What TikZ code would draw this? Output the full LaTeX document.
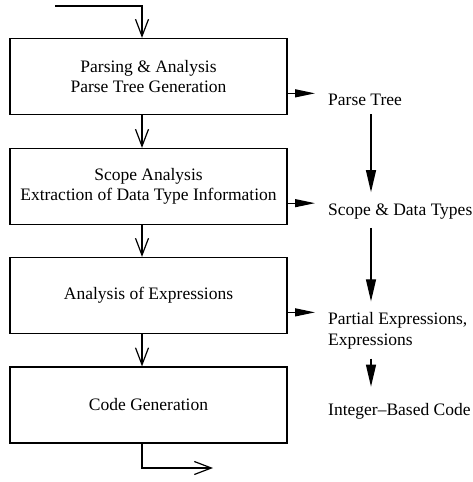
\documentclass[tikz,border=0pt]{standalone}
\usepackage{fontspec}
\setmainfont{Liberation Serif}
\usetikzlibrary{arrows.meta}

\begin{document}
\begin{tikzpicture}[x=1pt, y=-1pt, % pixel-like units, y downwards
    stage/.style={draw, line width=1.2pt, minimum width=277pt, minimum height=76pt,
        align=center, font=\fontsize{17.5}{20.5}\selectfont},
    result/.style={align=left, inner sep=0pt, font=\fontsize{17.5}{21}\selectfont},
    flow/.style={line width=1.2pt, -{Straight Barb[length=17pt,width=13pt]}},
    feed/.style={line width=1.2pt, -{Triangle[length=20pt,width=8pt]}},
    pass/.style={line width=1.2pt, -{Triangle[length=22pt,width=10pt]},
        shorten <=9pt, shorten >=11pt}]
    \useasboundingbox (0,0) rectangle (472,482);

    % Stages
    \node[stage] (parse) at (148.5,76.5) {Parsing \& Analysis\\Parse Tree Generation};
    \node[stage] (scope) at (148.5,186.5) {Scope Analysis\\Extraction of Data Type Information};
    \node[stage] (expr)  at (148.5,295.5) {Analysis of Expressions};
    \node[stage] (code)  at (148.5,405)   {Code Generation};

    % Results
    \node[result, anchor=base west] (tree)  at (328,105) {Parse Tree};
    \node[result, anchor=base west] (types) at (328,215) {Scope \& Data Types};
    \node[result, anchor=west]      (part)  at (328,331) {Partial Expressions,\\Expressions};
    \node[result, anchor=base west] (ints)  at (328,415) {Integer--Based Code};

    % Input and output
    \coordinate (in)  at (55,6);
    \coordinate (top) at (142,6);
    \coordinate (out) at (213,468);
    \coordinate (rx)  at (371,0);

    % Control flow
    \draw[flow] (in) -- (top) -- (parse.north -| top);
    \draw[flow] (parse.south -| top) -- (scope.north -| top);
    \draw[flow] (scope.south -| top) -- (expr.north -| top);
    \draw[flow] (expr.south -| top) -- (code.north -| top);
    \draw[flow] (code.south -| top) |- (out);

    % Data produced
    \draw[feed] (parse.east |- tree.north) -- ([xshift=-13pt]tree.north west);
    \draw[feed] (scope.east |- types.north) -- ([xshift=-13pt]types.north west);
    \draw[feed] (expr.east |- part.north) -- ([xshift=-13pt]part.north west);
    \draw[pass] (tree.south -| rx) -- (types.north -| rx);
    \draw[pass] (types.south -| rx) -- (part.north -| rx);
    \draw[pass, shorten >=16pt] (part.south -| rx) -- (ints.north -| rx);
\end{tikzpicture}
\end{document}
